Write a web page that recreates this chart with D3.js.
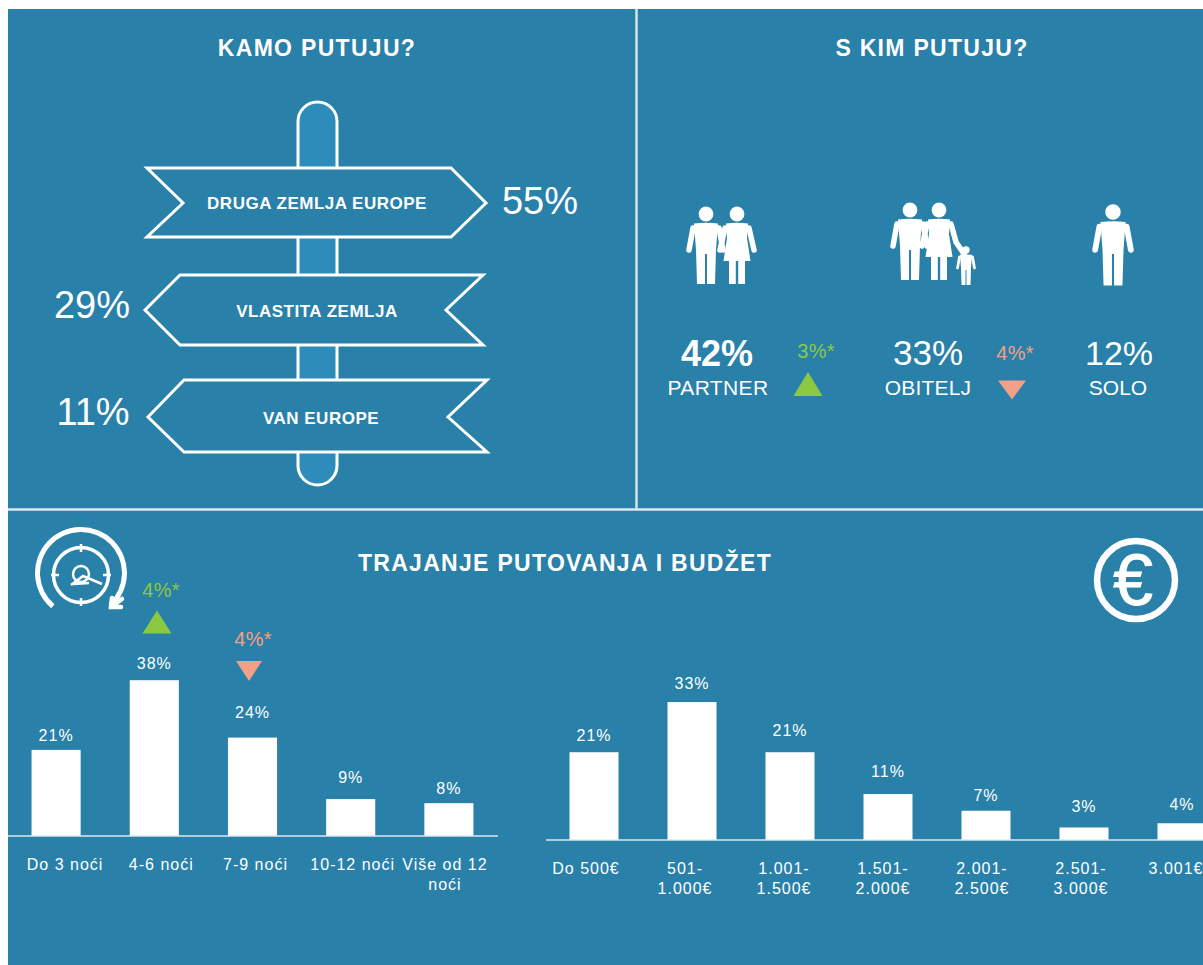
<!DOCTYPE html>
<html><head><meta charset="utf-8">
<script src="https://cdn.jsdelivr.net/npm/d3@7"></script>
<style>
html,body{margin:0;padding:0;background:#fff;overflow:hidden}
svg{display:block}
text{font-family:"Liberation Sans",Arial,sans-serif;fill:#fff}
</style></head><body>
<div id="chart"></div>
<script>
const titles = ["KAMO PUTUJU?", "S KIM PUTUJU?", "TRAJANJE PUTOVANJA I BUDŽET"];
const destLabels = ["DRUGA ZEMLJA EUROPE", "VLASTITA ZEMLJA", "VAN EUROPE"];
const destValues = [55, 29, 11];
const companyLabels = ["PARTNER", "OBITELJ", "SOLO"];
const companyValues = [42, 33, 12];
const nightCats = ["Do 3 noći", "4-6 noći", "7-9 noći", "10-12 noći", "Više od 12|noći"];
const nightValues = [21, 38, 24, 9, 8];
const budgetCats = ["Do 500€", "501-|1.000€", "1.001-|1.500€", "1.501-|2.000€", "2.001-|2.500€", "2.501-|3.000€", "3.001€"];
const budgetValues = [21, 33, 21, 11, 7, 3, 4];

/* layout nudges for labels, as placed in the reference */
const nightGaps = [9, 11, 20, 16, 9], nightShift = [9, 7, 3, 2, -4];
const budgetGaps = [11, 13, 16, 17, 10, 15, 13], budgetShift = [-8, -7, -6, -5, -4, -3, -6];

const BG = "#2980a9", POST = "#2d8cb9", GREEN = "#8cc943", SALMON = "#f2a088", RULE = "#dbe8ef";
const svg = d3.select("#chart").append("svg").attr("width", 1203).attr("height", 965);
svg.append("rect").attr("x", 8).attr("y", 9).attr("width", 1195).attr("height", 956).attr("fill", BG);

const rule = (x1, y1, x2, y2) => svg.append("line").attr("x1", x1).attr("y1", y1).attr("x2", x2).attr("y2", y2)
  .attr("stroke", RULE).attr("stroke-width", 2.4);
rule(636.5, 9, 636.5, 509);
rule(8, 509.5, 1203, 509.5);

function label(t, x, y, size, opts = {}) {
  return svg.append("text").attr("x", x).attr("y", y).attr("text-anchor", opts.anchor || "middle")
    .attr("font-size", size).attr("font-weight", opts.weight || 400)
    .style("letter-spacing", (opts.ls || 0) + "px").style("fill", opts.fill || "#fff").text(t);
}

label(titles[0], 317, 56, 23, {weight: 700, ls: 1.3});
label(titles[1], 932, 56, 23, {weight: 700, ls: 1.3});
label(titles[2], 565, 571, 23, {weight: 700, ls: 1.3});

/* signpost */
svg.append("rect").attr("x", 298).attr("y", 102).attr("width", 39).attr("height", 383).attr("rx", 19.5)
  .attr("fill", POST).attr("stroke", "#fff").attr("stroke-width", 3);
const signs = [
  [[147,168],[451,168],[486,203],[451,237],[147,237],[183,203]],
  [[145,310],[180,275],[483,275],[446,310],[483,345],[180,345]],
  [[148,417],[184,380],[487,380],[448,417],[487,452],[184,452]]
];
const signText = [[317, 209], [317, 317], [321, 424]];
const pctPos = [[540, 214, 38], [92, 318, 38], [93, 425, 38]];
signs.forEach((pts, i) => {
  svg.append("polygon").attr("points", pts.join(" ")).attr("fill", BG).attr("stroke", "#fff").attr("stroke-width", 3);
  label(destLabels[i], signText[i][0], signText[i][1], 17, {weight: 700, ls: 0.5});
  label(destValues[i] + "%", pctPos[i][0], pctPos[i][1], pctPos[i][2]);
});

/* pictograms */
function man(cx, cy, s = 1) {
  const g = svg.append("g").attr("transform", `translate(${cx},${cy}) scale(${s})`).attr("fill", "#fff");
  g.append("circle").attr("r", 7.4);
  g.append("path").attr("d", "M-12,9.5 Q0,8 12,9.5 L10,36 L9,70 L1,70 L1,40 L-1,40 L-1,70 L-9,70 L-10,36 Z");
  g.append("path").attr("d", "M-13,14 L-17,36 M13,14 L17,36").attr("stroke", "#fff").attr("stroke-width", 5.5).attr("stroke-linecap", "round").attr("fill", "none");
}
function woman(cx, cy, handToChild) {
  const g = svg.append("g").attr("transform", `translate(${cx},${cy})`).attr("fill", "#fff");
  g.append("circle").attr("r", 7.4);
  g.append("path").attr("d", "M-11,9.5 Q0,8 11,9.5 L10,24 L13.5,47 L8,47 L8,70 L1.2,70 L1.2,47 L-1.2,47 L-1.2,70 L-8,70 L-8,47 L-13.5,47 L-10,24 Z");
  g.append("path").attr("d", handToChild ? "M-12,14 L-17,36 M12,14 L17,32 L25,44" : "M-12,14 L-17,36 M12,14 L17,36")
    .attr("stroke", "#fff").attr("stroke-width", 5.5).attr("stroke-linecap", "round").attr("stroke-linejoin", "round").attr("fill", "none");
}
man(706, 214); woman(737, 214, false);
man(910, 210); woman(939, 210, true); man(966, 250, 0.5);
man(1113, 212, 1.05);

/* company percentages */
label(companyValues[0] + "%", 717, 366, 36, {weight: 700});
label(companyValues[1] + "%", 928, 365, 35);
label(companyValues[2] + "%", 1119, 365, 34);
label(companyLabels[0], 718, 395, 21, {ls: 0.4});
label(companyLabels[1], 928, 395, 21, {ls: 0.2});
label(companyLabels[2], 1118, 395, 21);

/* change markers */
const changes = [
  {t: "3%*", x: 816, y: 358, up: true,  ax: 808,  cy: 384, w: 14.5, h: 24},
  {t: "4%*", x: 1015, y: 360, up: false, ax: 1012, cy: 390, w: 14,   h: 19},
  {t: "4%*", x: 161, y: 597, up: true,  ax: 157,  cy: 622, w: 14.5, h: 23},
  {t: "4%*", x: 253, y: 646, up: false, ax: 249,  cy: 671, w: 13,   h: 20}
];
changes.forEach(c => {
  const col = c.up ? GREEN : SALMON;
  label(c.t, c.x, c.y, 20, {fill: col, ls: 0.2});
  const pts = c.up ? [[c.ax - c.w, c.cy + c.h / 2], [c.ax + c.w, c.cy + c.h / 2], [c.ax, c.cy - c.h / 2]]
                   : [[c.ax - c.w, c.cy - c.h / 2], [c.ax + c.w, c.cy - c.h / 2], [c.ax, c.cy + c.h / 2]];
  svg.append("polygon").attr("points", pts.join(" ")).attr("fill", col);
});

/* clock icon */
const arc = d3.arc();
const clock = svg.append("g").attr("transform", "translate(81,573)");
clock.append("path").attr("d", arc({innerRadius: 41, outerRadius: 46, startAngle: -2.44, endAngle: 2.4, cornerRadius: 2})).attr("fill", "#fff");
clock.append("path").attr("d", "M31,25 L30,34 L40,34 M30,34 L41,26").attr("stroke", "#fff").attr("stroke-width", 4.5).attr("fill", "none").attr("stroke-linecap", "round");
clock.append("circle").attr("cy", 2).attr("r", 27.5).attr("fill", "none").attr("stroke", "#fff").attr("stroke-width", 3.5);
clock.append("circle").attr("cy", 1).attr("r", 8).attr("fill", "none").attr("stroke", "#fff").attr("stroke-width", 2.5);
clock.append("path").attr("d", "M0,-29 V-21 M0,25 V33 M-30,2 H-22 M22,2 H30 M-10,12 L2,3 L21,11 M-8,11 L8,10")
  .attr("stroke", "#fff").attr("stroke-width", 2.5).attr("fill", "none");

/* euro icon */
svg.append("circle").attr("cx", 1136).attr("cy", 580).attr("r", 39).attr("fill", "none").attr("stroke", "#fff").attr("stroke-width", 6.5);
label("€", 1133, 605, 72).style("stroke", "#fff").style("stroke-width", 0.8);

/* bar charts */
function barChart(cats, values, gaps, shifts, x0, x1, axisEnd, baseline, pxPerPct) {
  const x = d3.scaleBand().domain(cats).range([x0, x1]).paddingInner(0.5).paddingOuter(0.25);
  const y = d3.scaleLinear().domain([0, 40]).range([baseline, baseline - 40 * pxPerPct]);
  const g = svg.append("g");
  g.selectAll("rect.bar").data(cats).join("rect").attr("class", "bar")
    .attr("x", d => x(d)).attr("width", x.bandwidth())
    .attr("y", (d, i) => y(values[i])).attr("height", (d, i) => baseline - y(values[i])).attr("fill", "#fff");
  g.selectAll("text.val").data(cats).join("text").attr("class", "val")
    .attr("x", d => x(d) + x.bandwidth() / 2).attr("y", (d, i) => y(values[i]) - gaps[i])
    .attr("text-anchor", "middle").attr("font-size", 16).style("letter-spacing", "1px").text((d, i) => values[i] + "%");
  const ax = d3.axisBottom(x).tickSize(0).tickPadding(0);
  const axG = g.append("g").attr("transform", `translate(0,${baseline})`).call(ax);
  axG.select(".domain").remove();
  axG.append("line").attr("x1", x0 + 1).attr("x2", axisEnd).attr("stroke", RULE).attr("stroke-width", 1.6);
  axG.selectAll(".tick text").each(function (d, i) {
    const t = d3.select(this).attr("y", 0).attr("dy", null).text(null)
      .attr("font-size", 16).style("font-family", '"Liberation Sans",Arial,sans-serif').style("fill", "#fff").style("letter-spacing", "1px");
    d.split("|").forEach((line, k) => {
      t.append("tspan").attr("x", shifts[i]).attr("y", 34 + k * 20).text(line);
    });
  });
}
barChart(nightCats, nightValues, nightGaps, nightShift, 7, 498, 498, 836, 4.1);
barChart(budgetCats, budgetValues, budgetGaps, budgetShift, 545, 1231, 1203, 840, 4.18);
</script>
</body></html>
